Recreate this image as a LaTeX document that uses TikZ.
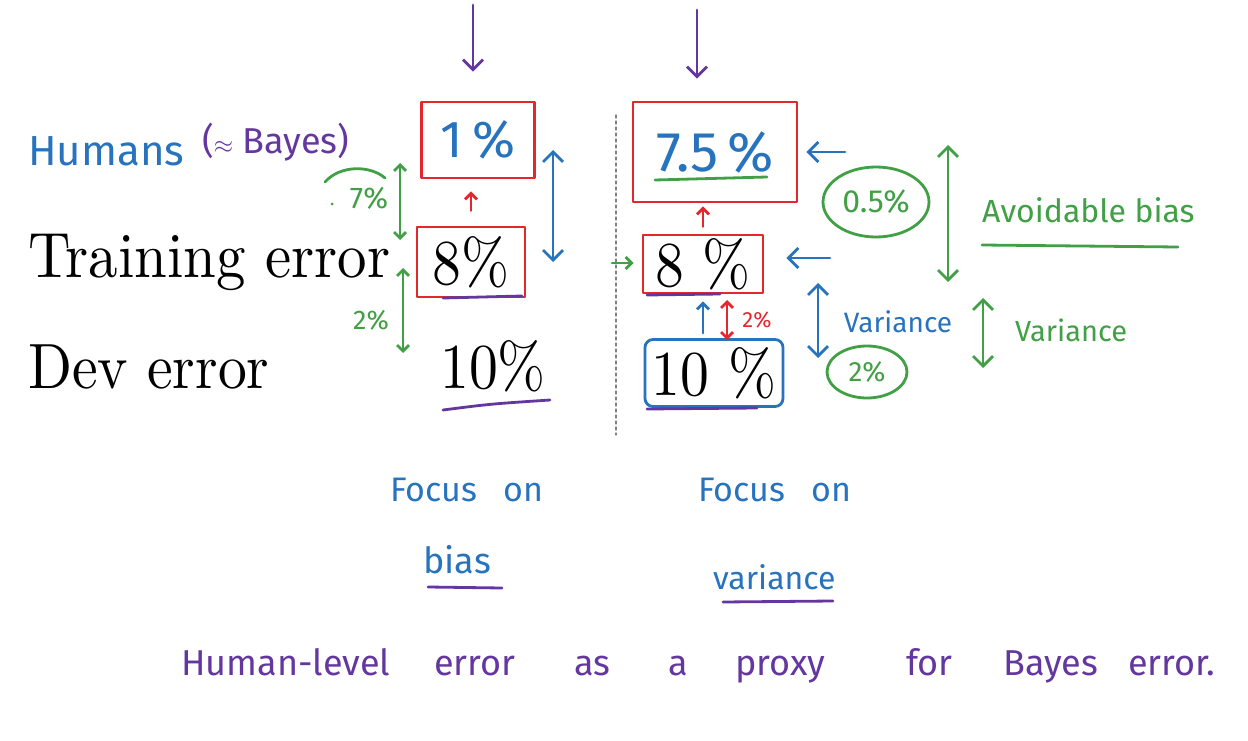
\documentclass[tikz,border=0pt]{standalone}
\usepackage{fontspec}
\newfontfamily\handfont{Fira Sans}
\newfontfamily\typedfont{lmroman10-regular}[Extension=.otf]
\usetikzlibrary{arrows.meta,shapes.geometric}
\definecolor{hblue}{RGB}{40,115,190}
\definecolor{hpurple}{RGB}{100,55,160}
\definecolor{hred}{RGB}{228,38,45}
\definecolor{hgreen}{RGB}{65,160,70}
\tikzset{
  pen/.style={line width=2.8pt},
  hand/.style={font=\handfont\fontsize{#1}{#1}\selectfont},
  typed/.style={font=\typedfont\fontsize{64}{70}\selectfont, text=black},
  redbox/.style={draw=hred, pen, inner sep=0pt},
  bigtip/.style={>={Straight Barb[length=10pt,width=20pt]}},
  smalltip/.style={>={Straight Barb[length=6pt,width=12pt]}},
}
\begin{document}
\begin{tikzpicture}[x=1pt,y=-1pt, line cap=round, line join=round, bigtip]
\useasboundingbox (0,0) rectangle (1248,741);
\fill[white] (0,0) rectangle (1248,741);

% typed text
\node[typed, anchor=base west, inner sep=0pt] (tr) at (28,277) {\scalebox{0.92}[1]{Training error}};
\node[typed, anchor=base west, inner sep=0pt] (dev) at (28,388) {\scalebox{0.9}[1]{Dev error}};

% left column
\node[redbox, minimum width=113pt, minimum height=76pt, text=hblue, hand=52] (b1L) at (478,140) {1\,\%};
\node[redbox, minimum width=108pt, minimum height=70pt, typed] (b8L) at (471,262) {\scalebox{0.9}[1]{8\%}};
\node[typed, anchor=base west, inner sep=0pt] (d10L) at (440,388) {\scalebox{0.9}[1]{10\%}};

% right column
\node[redbox, minimum width=164pt, minimum height=100pt, text=hblue, hand=56] (b75R) at (715,152) {7.5\,\%};
\node[redbox, minimum width=120pt, minimum height=58pt, typed] (b8R) at (703,264) {\scalebox{0.9}[1]{8 \%}};
\node[draw=hblue, pen, rounded corners=8pt, inner sep=0pt, minimum width=138pt, minimum height=67pt, typed] (b10R) at (714,373) {\scalebox{0.9}[1]{10 \%}};

% ellipses
\node[ellipse, draw=hgreen, pen, inner sep=0pt, minimum width=106pt, minimum height=70pt, text=hgreen, hand=32] (e05) at (876,202) {0.5\%};
\node[ellipse, draw=hgreen, pen, inner sep=0pt, minimum width=80pt, minimum height=52pt, text=hgreen, hand=28] (e2) at (867,372) {2\%};

% handwritten labels
\node[hand=42, text=hblue, anchor=base west, inner sep=0pt] (hum) at (28,165) {Humans};
\node[hand=36, text=hpurple, anchor=west, inner sep=0pt] (bay) at (202,142) {($\approx$ Bayes)};
\node[hand=30, text=hgreen] (l7) at (369,198) {7\%};
\node[hand=27, text=hgreen] (l2) at (371,320) {2\%};
\node[hand=22, text=hred] (r2) at (757,320) {2\%};
\node[hand=28, text=hblue] (varB) at (898,322) {Variance};
\node[hand=32, text=hgreen, anchor=west, inner sep=0pt] (avb) at (982,210) {Avoidable bias};
\node[hand=29, text=hgreen, anchor=west, inner sep=0pt] (varG) at (1015,330) {Variance};

\node[hand=34, text=hblue, anchor=west, inner sep=0pt] (f1) at (390,490) {Focus\enspace\ on};
\node[hand=36, text=hblue, anchor=west, inner sep=0pt] (fb) at (423,560) {bias};
\node[hand=34, text=hblue, anchor=west, inner sep=0pt] (f2) at (698,490) {Focus\enspace\ on};
\node[hand=32, text=hblue, anchor=west, inner sep=0pt] (fv) at (713,577) {variance};

\foreach \w/\x in {Human-level/181, error/434, as/574, a/668, proxy/735, for/906, Bayes/1003, error./1128}
  \node[hand=36, text=hpurple, anchor=base west, inner sep=0pt] (bw-\x) at (\x,675) {\w};

% underlines
\draw[pen, hpurple] (443,298) -- (522,296);
\draw[pen, hpurple] (443,410) .. controls (490,404) .. (550,400);
\draw[pen, hpurple] (647,295) -- (720,294);
\draw[pen, hpurple] (647,409) -- (757,408);
\draw[pen, hgreen] (655,180) -- (767,177);
\draw[pen, hpurple] (428,587) -- (502,588);
\draw[pen, hpurple] (723,602) -- (833,601);
\draw[pen, hgreen] (982,245) -- (1178,247);

% purple down arrows
\coordinate (pa1) at (473,5);
\coordinate (pa2) at (697,10);
\draw[->, pen, hpurple, shorten >=29pt] (pa1) -- (pa1 |- b1L.north);
\draw[->, pen, hpurple, shorten >=22pt] (pa2) -- (pa2 |- b75R.north);

% red up arrows between boxes
\draw[->, pen, hred, smalltip, shorten <=15pt, shorten >=12pt] (b8L.north) -- (b8L.north |- b1L.south);
\draw[->, pen, hred, smalltip, shorten <=7pt, shorten >=3pt] (b8R.north) -- (b8R.north |- b75R.south);

% blue double arrow left
\coordinate (bl1) at (553,150);
\coordinate (bl2) at (553,262);
\draw[<->, pen, hblue] (bl1) -- (bl2);

% dashed separator
\coordinate (ds1) at (616,115);
\coordinate (ds2) at (616,435);
\draw[dashed, gray, line width=1.2pt] (ds1) -- (ds2);

% green left arrows
\coordinate (g7a) at (400,163);
\coordinate (g7b) at (400,240);
\draw[<->, pen, hgreen, smalltip] (g7a) -- (g7b);
\coordinate (g2a) at (403,268);
\coordinate (g2b) at (403,353);
\draw[<->, pen, hgreen, smalltip] (g2a) -- (g2b);
\draw[pen, hgreen] (325,182) .. controls (340,165) and (370,165) .. (385,178);
\fill[hgreen] (332,204) circle (1.5pt);

% green small arrow into right 8% box
\coordinate (ga) at (612,263);
\draw[->, pen, hgreen, smalltip, shorten >=8pt] (ga) -- (ga -| b8R.west);

% blue arrows on the right
\coordinate (s1) at (845,152);
\draw[->, pen, hblue, shorten >=8pt] (s1) -- (s1 -| b75R.east);
\coordinate (s2) at (830,258);
\draw[->, pen, hblue, shorten >=22pt] (s2) -- (s2 -| b8R.east);
\coordinate (bv1) at (818,283);
\coordinate (bv2) at (818,358);
\draw[<->, pen, hblue] (bv1) -- (bv2);
\draw[->, pen, hblue, smalltip, shorten <=5pt, shorten >=7pt] (b10R.north -| b8R.south) -- (b8R.south);

% red 2% double arrow
\coordinate (rd1) at (727,300);
\coordinate (rd2) at (727,340);
\draw[<->, pen, hred, smalltip] (rd1) -- (rd2);

% green big double arrows
\coordinate (gb1) at (948,145);
\coordinate (gb2) at (948,282);
\draw[<->, pen, hgreen] (gb1) -- (gb2);
\coordinate (gs1) at (983,298);
\coordinate (gs2) at (983,368);
\draw[<->, pen, hgreen] (gs1) -- (gs2);
\end{tikzpicture}
\end{document}
